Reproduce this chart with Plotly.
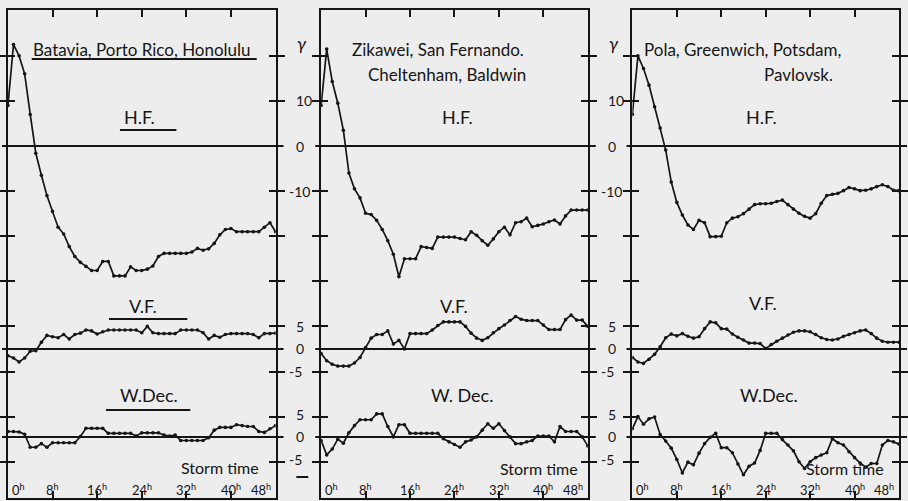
import plotly.graph_objects as go

# Storm-time hours (0h .. 48h)
hours = list(range(49))

# Batavia, Porto Rico, Honolulu  (γ)
batavia_hf = [9, 22.5, 20, 16, 7, -1.6, -6.5, -11, -14.5, -18, -19.5, -22.3, -24.5, -25.8, -26.7,
              -27.6, -27.6, -25.6, -25.6, -28.8, -28.8, -28.8, -26.8, -27.6, -27.6, -27.3, -26.6,
              -24.5, -23.8, -23.8, -23.8, -23.8, -23.8, -23.5, -22.7, -23.1, -22.8, -21.6, -19.7,
              -18.5, -18.3, -19, -19, -19, -19, -19, -18, -17, -19]
batavia_vf = [-1.5, -2, -2.9, -2, -0.5, -0.4, 1.5, 3, 2.7, 2.5, 3.2, 2.2, 3.2, 3.5, 4.2, 4, 3.3,
              3.8, 4.2, 4.2, 4.2, 4.2, 4.2, 4.2, 3.6, 5, 3.6, 3.4, 3.4, 3.4, 3.4, 4.2, 4.2, 4.2,
              4.2, 3.6, 2.2, 3, 2.6, 3.2, 3.4, 3.4, 3.4, 3.4, 3.2, 2.5, 3.4, 3.4, 3.5]
batavia_wd = [1.2, 1.2, 1.1, 0.6, -2.3, -2.3, -1.5, -2.3, -1.3, -1.3, -1.3, -1.3, -1.3, 0.1, 1.9,
              1.9, 1.9, 1.9, 0.8, 0.8, 0.8, 0.8, 0.8, 0.2, 0.9, 0.9, 0.9, 0.9, 0.4, 0.2, 0.4, -0.8,
              -0.8, -0.8, -0.8, -0.8, -0.2, 1.5, 2.1, 2.1, 2.1, 2.7, 2.5, 2.3, 2.3, 1.2, 1, 1.8, 2.5]

# Zikawei, San Fernando, Cheltenham, Baldwin  (γ)
zikawei_hf = [9, 21.5, 14.3, 9.5, 3.5, -6, -9.5, -11.5, -14.9, -15.2, -16.5, -18.5, -21, -24, -29,
              -25, -25, -25, -22.3, -22.5, -22.7, -20.2, -20.2, -20.2, -20.2, -20.5, -20.8, -19,
              -19.8, -21, -22, -20.6, -19, -18, -19.7, -17, -16.8, -16, -17.9, -17.6, -17.3,
              -16.8, -16.4, -17.3, -15.5, -14.2, -14.2, -14.2, -14.2]
zikawei_vf = [-1, -2.6, -3.4, -3.8, -3.8, -3.8, -3.1, -1.9, 0.3, 2.4, 3.2, 3.2, 4, 1.1, 1.9, 0,
              3.4, 3.4, 3.4, 3.4, 4.2, 5.2, 6, 6, 6, 6, 5, 3.5, 2.4, 1.9, 2.5, 3.6, 4.5, 5.3, 6.3,
              7.2, 6.6, 6.3, 6.3, 6.3, 5.3, 4.3, 4.3, 4.3, 6.5, 7.5, 6.4, 6.4, 5]
zikawei_wd = [-0.8, -4, -2.7, -0.5, -1.4, 0.9, 2.5, 3.8, 3.8, 3.8, 5.1, 5.1, 2.3, 0, 2.7, 2.7,
              0.8, 0.8, 0.8, 0.8, 0.8, 0.8, -0.4, -1.1, -1.7, -2.3, -1.1, -0.7, 0, 1.5, 2.9, 1.9,
              2.9, 1.4, 0, -1.5, -1.5, -1.1, -0.8, 0.2, 0.2, 0.2, -1.1, 2.3, 1.2, 1.2, 1.2, 0, -2]

# Pola, Greenwich, Potsdam, Pavlovsk  (γ)
pola_hf = [7, 20, 17.2, 13.5, 8.7, 4, -0.9, -8, -12.5, -15.3, -17.5, -18.5, -16.5, -17, -20.1,
           -20.1, -20, -17, -16, -15.7, -15, -14, -13, -12.8, -12.8, -12.7, -12.3, -12, -13, -14,
           -14.9, -15.6, -16, -15, -12.7, -11, -10.7, -10.5, -9.9, -9.2, -9.5, -9.9, -9.8, -9.5,
           -9, -8.6, -9, -9.8, -9.9]
pola_vf = [-1.9, -2.9, -3.2, -2.3, -1.2, 0.5, 2.5, 3.3, 2.9, 3.4, 2.8, 2.4, 2.7, 4.5, 6, 5.8, 4.5,
           4.4, 3.3, 2.6, 2, 1.3, 1.3, 1.2, 0.1, 1, 1.7, 2.4, 3.1, 3.7, 4, 4, 3.8, 3.2, 2.5, 2.1,
           2, 2.2, 2.8, 3.2, 3.6, 4, 4.2, 3.4, 2.4, 1.7, 1.5, 1.5, 1.5]
pola_wd = [1.8, 4.5, 2.8, 4, 4.4, 0.5, -0.9, -2.5, -5, -8, -5.6, -6.2, -3.6, -1.5, -0.1, 0.8,
           -2.4, -2.4, -3.5, -6, -8.4, -6.5, -5.8, -3, 0.8, 0.8, 0.8, -0.6, -1.8, -3.1, -5.5, -7,
           -5.5, -4.6, -4, -3.5, -0.4, -1.3, -1.8, -3.3, -4.6, -5.8, -6.7, -5.9, -5.9, -1.8,
           -0.8, -1.1, -1.6]

hour_ticks = [0, 8, 16, 24, 32, 40, 48]
hour_labels = ["0<sup>h</sup>", "8<sup>h</sup>", "16<sup>h</sup>", "24<sup>h</sup>",
               "32<sup>h</sup>", "40<sup>h</sup>", "48<sup>h</sup>"]
hf_scale = [10, 0, -10]
small_scale = [5, 0, -5]

# ---------------------------------------------------------------- layout
W, H = 908, 501
BG = "#ededed"
INK = "#151515"
FONT = "Lato"

# each element curve is drawn about its own base line on a shared γ scale
VF_BASE = -45
WD_BASE = -64.5
Y_RANGE = [-78.05, 30.16]
Y_TICKS = [20, 10, -10, -20, -30, -40, -50, -60, -70]

panels_px = [(8, 278), (324, 593), (638, 907)]
TOP_PX, BOTTOM_PX = 10, 498


def px(x):
    return x / W


def py(y):
    return 1 - y / H


panels = [
    (batavia_hf, batavia_vf, batavia_wd),
    (zikawei_hf, zikawei_vf, zikawei_wd),
    (pola_hf, pola_vf, pola_wd),
]

fig = go.Figure()
layout = dict(
    width=W, height=H, margin=dict(l=0, r=0, t=0, b=0),
    paper_bgcolor=BG, plot_bgcolor=BG, showlegend=False,
    font=dict(family=FONT, color=INK),
)
shapes = []
annotations = []

line_style = dict(color=INK, width=1.7)
marker_style = dict(color=INK, size=3.6)

for i, (hf, vf, wd) in enumerate(panels):
    n = i + 1
    xa = "x" if n == 1 else f"x{n}"
    ya = "y" if n == 1 else f"y{n}"
    yo = f"y{n + 3}"
    x0p, x1p = panels_px[i]
    dom_x = [px(x0p), px(x1p)]
    dom_y = [py(BOTTOM_PX), py(TOP_PX)]

    fig.add_trace(go.Scatter(x=hours, y=hf, mode="lines+markers", line=line_style,
                             marker=marker_style, xaxis=xa, yaxis=ya, hoverinfo="skip"))
    fig.add_trace(go.Scatter(x=hours, y=[VF_BASE + v for v in vf], mode="lines+markers",
                             line=line_style, marker=marker_style, xaxis=xa, yaxis=yo,
                             hoverinfo="skip"))
    fig.add_trace(go.Scatter(x=hours, y=[WD_BASE + v for v in wd], mode="lines+markers",
                             line=line_style, marker=marker_style, xaxis=xa, yaxis=yo,
                             hoverinfo="skip"))

    xkey = "xaxis" if n == 1 else f"xaxis{n}"
    ykey = "yaxis" if n == 1 else f"yaxis{n}"
    layout[xkey] = dict(domain=dom_x, range=[0, 48], anchor=ya, showline=True, mirror="ticks",
                        linecolor=INK, linewidth=2, ticks="inside", tickvals=hour_ticks[1:-1],
                        ticklen=7, tickwidth=2, tickcolor=INK, showticklabels=False,
                        showgrid=False, zeroline=False, fixedrange=True)
    axis_y = dict(domain=dom_y, range=Y_RANGE, anchor=xa, showline=True, mirror="ticks",
                  linecolor=INK, linewidth=2, tickvals=Y_TICKS, ticklen=7, tickwidth=2,
                  tickcolor=INK, showticklabels=False, showgrid=False, zeroline=False,
                  fixedrange=True)
    layout[ykey] = dict(axis_y, ticks="outside")
    layout[f"yaxis{n + 3}"] = dict(axis_y, ticks="inside", overlaying=ya)

    # base lines of the three elements
    for base in (0, VF_BASE, WD_BASE):
        shapes.append(dict(type="line", xref=f"{xa} domain", yref=ya, x0=-0.022, x1=1.03,
                           y0=base, y1=base, line=dict(color=INK, width=2)))

    # hour labels along the bottom
    for h, lab in zip(hour_ticks, hour_labels):
        if h == 0:
            anchor, shift = "left", 2
        elif h == 48:
            anchor, shift = "right", -3
        else:
            anchor, shift = "center", 0
        annotations.append(dict(text=lab, xref=xa, x=h, yref="paper", y=py(489),
                                xanchor=anchor, yanchor="middle", xshift=shift,
                                showarrow=False, font=dict(size=13, color=INK)))

    # scale figures to the right of the first two panels
    if n < 3:
        scale_marks = ([(v, v) for v in hf_scale]
                       + [(v, VF_BASE + v) for v in small_scale]
                       + [(v, WD_BASE + v) for v in small_scale])
        for v, pos in scale_marks:
            annotations.append(dict(text=str(v), xref=f"{xa} domain", x=1, yref=ya, y=pos,
                                    xanchor="left", yanchor="middle",
                                    xshift=18 if v >= 0 else 11, showarrow=False,
                                    font=dict(size=14, color=INK)))
        annotations.append(dict(text="<i>γ</i>", xref=f"{xa} domain", x=1, yref="paper",
                                y=py(43), xanchor="left", yanchor="middle", xshift=19,
                                showarrow=False, font=dict(size=18, color=INK)))

# ---------------------------------------------------------------- captions
def label(text, x, y, size=17, anchor="center"):
    annotations.append(dict(text=text, xref="paper", yref="paper", x=px(x), y=py(y),
                            xanchor=anchor, yanchor="middle", showarrow=False,
                            font=dict(size=size, color=INK)))


def underline(x0, x1, y):
    shapes.append(dict(type="line", xref="paper", yref="paper", x0=px(x0), x1=px(x1),
                       y0=py(y), y1=py(y), line=dict(color=INK, width=2)))


label("Batavia, Porto Rico, Honolulu", 143, 50, size=17)
underline(32, 259, 59)
label("H.F.", 141, 117, size=18)
underline(121, 178, 130)
label("V.F.", 144, 306, size=18)
underline(110, 189, 319)
label("W.Dec.", 150, 395, size=18)
underline(107, 192, 410)
label("Storm time", 222, 467, size=16)

label("Zikawei, San Fernando.", 531, 50, size=17, anchor="right")
label("Cheltenham, Baldwin", 533, 74, size=17, anchor="right")
label("H.F.", 462, 117, size=18)
label("V.F.", 458, 306, size=18)
label("W. Dec.", 466, 395, size=18)
label("Storm time", 544, 468, size=16)

label("Pola, Greenwich, Potsdam,", 850, 50, size=17, anchor="right")
label("Pavlovsk.", 842, 74, size=17, anchor="right")
label("H.F.", 768, 117, size=18)
label("V.F.", 770, 303, size=18)
label("W.Dec.", 776, 395, size=18)
label("Storm time", 853, 468, size=16)

# short rule between the first two panels
shapes.append(dict(type="line", xref="paper", yref="paper", x0=px(299), x1=px(311),
                   y0=py(477), y1=py(477), line=dict(color=INK, width=2)))

layout["shapes"] = shapes
layout["annotations"] = annotations
fig.update_layout(**layout)
fig.write_html("out.html")
